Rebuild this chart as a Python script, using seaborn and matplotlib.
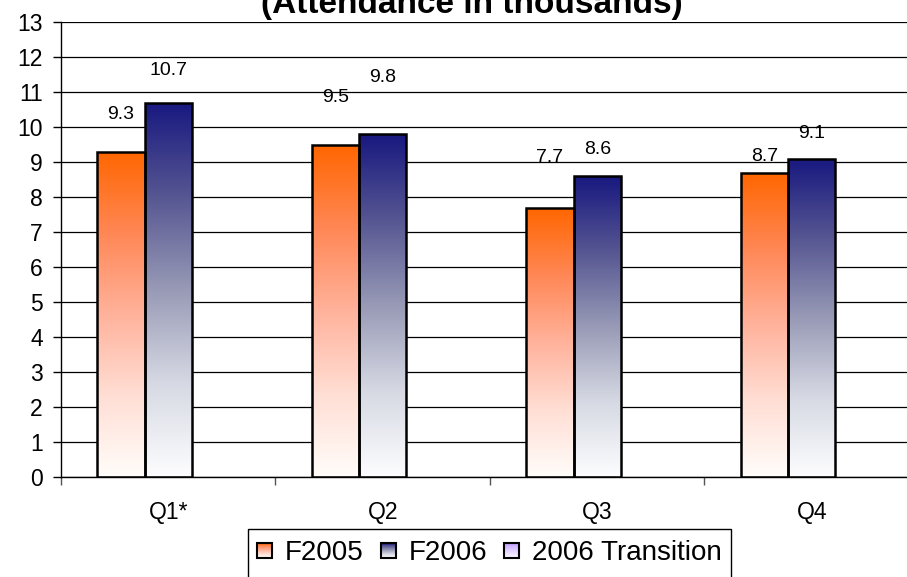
import numpy as np
import pandas as pd
import seaborn as sns
import matplotlib
matplotlib.use("Agg")
import matplotlib.pyplot as plt
from matplotlib.patches import Rectangle, Patch
from matplotlib.legend_handler import HandlerBase

# ---- data -------------------------------------------------------------
quarters = ["Q1*", "Q2", "Q3", "Q4"]
series_names = ["F2005", "F2006", "2006 Transition"]
f2005 = [9.3, 9.5, 7.7, 8.7]
f2006 = [10.7, 9.8, 8.6, 9.1]
transition = [np.nan, np.nan, np.nan, np.nan]
y_ticks = list(range(0, 14))
title = "(Attendance in thousands)"

# ---- styling ------------------------------------------------------------
# colour stops from the top of each bar (t=0) down to its base (t=1)
gradient_stops = {
    "F2005": [(0.0, (255, 102, 0)), (0.25, (255, 135, 85)), (0.5, (255, 178, 155)),
              (0.75, (255, 222, 212)), (1.0, (255, 253, 250))],
    "F2006": [(0.0, (24, 24, 128)), (0.25, (86, 86, 146)), (0.5, (152, 154, 182)),
              (0.75, (214, 217, 227)), (1.0, (253, 253, 255))],
    "2006 Transition": [(0.0, (190, 150, 255)), (0.5, (222, 205, 255)),
                        (1.0, (252, 250, 255))],
}
key_colors = {"F2005": "#FF6600", "F2006": "#1C1C80", "2006 Transition": "#BE96FF"}
# vertical offset of each value label above its bar, in pixels (per quarter)
label_lift = {"F2005": [37, 47, 50, 16], "F2006": [32, 57, 27, 25]}

df = pd.DataFrame({
    "quarter": quarters * 3,
    "series": [s for s in series_names for _ in quarters],
    "value": f2005 + f2006 + transition,
})

plt.rcParams["font.family"] = ["Liberation Sans", "DejaVu Sans"]

W, H = 907, 577
fig = plt.figure(figsize=(W / 100, H / 100), dpi=100)
ax = fig.add_axes([61 / W, 1 - 477 / H, 858 / W, 455 / H])

sns.barplot(data=df, x="quarter", y="value", hue="series",
            order=quarters, hue_order=series_names, palette=key_colors,
            saturation=1, width=0.66, errorbar=None, legend=False, ax=ax)


def color_at(stops, t):
    ts = [s[0] for s in stops]
    cs = np.array([s[1] for s in stops], dtype=float) / 255.0
    return np.array([np.interp(t, ts, cs[:, k]) for k in range(3)])


def gradient(stops, n=256):
    # rows ordered bottom (index 0) to top, for origin="lower"
    t = np.linspace(1, 0, n)
    return np.array([color_at(stops, ti) for ti in t])[:, None, :]


lookup = {tuple(np.round(np.array(matplotlib.colors.to_rgb(c)), 3)): s
          for s, c in key_colors.items()}
qpos = {i: q for i, q in enumerate(quarters)}
for bar in ax.patches:
    h = bar.get_height()
    if not np.isfinite(h) or h <= 0:
        continue
    fc = tuple(np.round(bar.get_facecolor()[:3], 3))
    series = lookup.get(fc)
    x0 = bar.get_x()
    w = bar.get_width()
    im = ax.imshow(gradient(gradient_stops[series]), extent=[x0, x0 + w, 0, h],
                   origin="lower", aspect="auto", interpolation="bilinear",
                   zorder=1.5)
    im.set_clip_path(bar)
    bar.set_facecolor("none")
    bar.set_edgecolor("black")
    bar.set_linewidth(1.8)
    bar.set_zorder(2)
    qi = int(round(x0 + w / 2))
    lift = label_lift[series][qi] * 0.72
    ax.annotate(f"{h:.1f}", xy=(x0 + w / 2, h), xytext=(0, lift),
                textcoords="offset points", ha="center", va="center",
                fontsize=14, zorder=3)

ax.set_xlim(-0.5, 3.5)
ax.set_ylim(0, 13)

# grid, spines, ticks
ax.set_yticks(y_ticks)
ax.yaxis.grid(True, color="black", linewidth=0.9)
ax.set_axisbelow(True)
for side in ("top", "right"):
    ax.spines[side].set_visible(False)
ax.spines["left"].set_color("black")
ax.spines["left"].set_linewidth(1.0)
ax.spines["bottom"].set_color("black")
ax.spines["bottom"].set_linewidth(1.0)

ax.set_xticks(range(len(quarters)))
ax.set_xticklabels(quarters)
ax.set_xticks(np.arange(-0.5, len(quarters), 1.0), minor=True)
ax.tick_params(axis="x", which="major", length=0, pad=17, labelsize=16.5)
ax.tick_params(axis="x", which="minor", length=6, width=1.0, color="#555555")
ax.tick_params(axis="y", which="major", length=6, width=1.0, color="black",
               pad=7, labelsize=16.5)
ax.set_xlabel("")
ax.set_ylabel("")

fig.text(472 / W, 1 - 13 / H, title, ha="center", va="baseline",
         fontsize=24, fontweight="bold")


class GradientSquare(HandlerBase):
    def __init__(self, stops, size):
        super().__init__()
        self.stops = stops
        self.size = size

    def create_artists(self, legend, orig_handle, xdescent, ydescent,
                       width, height, fontsize, trans):
        s = self.size
        x0 = -xdescent + (width - s) / 2
        y0 = -ydescent + (height - s) / 2
        n = 16
        arts = []
        for i in range(n):
            t = 1 - (i + 0.5) / n
            arts.append(Rectangle((x0, y0 + i * s / n), s, s / n,
                                  facecolor=color_at(self.stops, t),
                                  edgecolor="none", transform=trans))
        arts.append(Rectangle((x0, y0), s, s, facecolor="none",
                              edgecolor="black", linewidth=1.5, transform=trans))
        return arts


handles = [Patch(label=s) for s in series_names]
hmap = {h: GradientSquare(gradient_stops[h.get_label()], 10.8) for h in handles}
leg = fig.legend(handles=handles, labels=series_names, handler_map=hmap,
                 loc="center left", bbox_to_anchor=(257 / W, 1 - 553 / H),
                 bbox_transform=fig.transFigure, ncol=3, fontsize=20,
                 frameon=False, borderaxespad=0, borderpad=0,
                 handlelength=0.56, handleheight=0.56,
                 handletextpad=0.45, columnspacing=0.6)

# legend frame, running off the lower edge of the figure
fig.patches.append(Rectangle((248 / W, 1 - 600 / H), (731 - 248) / W, 71 / H,
                             transform=fig.transFigure, facecolor="none",
                             edgecolor="black", linewidth=1.0, zorder=0))

fig.savefig("out.png", dpi=100)
